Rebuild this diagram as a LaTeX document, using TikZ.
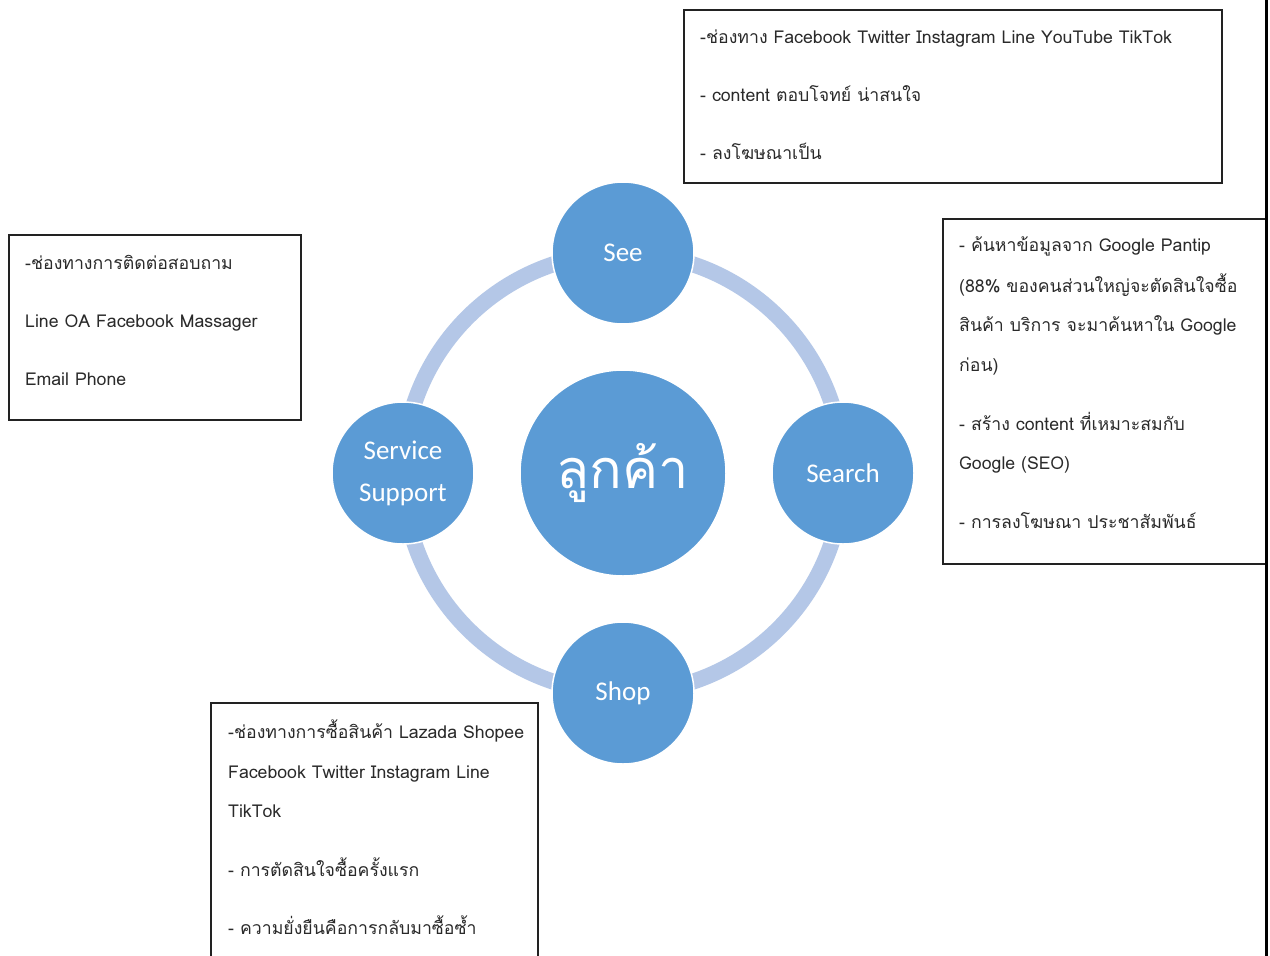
\documentclass[tikz,border=0pt]{standalone}
\usepackage{fontspec}
\setmainfont{Carlito}
\newfontfamily\thaifont[Script=Thai]{Loma}
\definecolor{circblue}{HTML}{5B9BD5}
\definecolor{ringblue}{HTML}{B4C7E7}
\definecolor{boxline}{HTML}{222222}
\definecolor{txtgray}{HTML}{2A2A2A}
\begin{document}
\begin{tikzpicture}[x=1pt,y=-1pt,
  sat/.style={circle,fill=circblue,draw=white,line width=1.5pt,minimum size=142pt,inner sep=0pt,
    text=white,font=\fontsize{27}{42}\selectfont,align=center},
  hub/.style={circle,fill=circblue,draw=white,line width=1.5pt,minimum size=206pt,inner sep=0pt,
    text=white,font=\thaifont\fontsize{54}{60}\selectfont},
  ring/.style={draw=ringblue,line width=16pt},
  infobox/.style={draw=boxline,line width=1.3pt},
  txt/.style={anchor=mid west,inner sep=0pt,text=txtgray,font=\thaifont\fontsize{17.7}{20}\selectfont}
]
\useasboundingbox (0,0) rectangle (1270,956);
\clip (0,0) rectangle (1270,956);
\fill[white] (0,0) rectangle (1270,956);

% hub and ring
\node[hub] (hub) at (623,473) {ลูกค้า};
\draw[ring] (hub.center) circle (220);

% satellites
\node[sat] (see) at (623,253) {See};
\node[sat] (search) at (843,473) {Search};
\node[sat] (shop) at (623,693) {Shop};
\node[sat] (service) at (403,473) {Service\\Support};

% top box (See)
\draw[infobox] (684,10) rectangle (1222,183);
\node[txt] (t1) at (700,41) {-ช่องทาง Facebook Twitter Instagram Line YouTube TikTok};
\node[txt] (t2) at (700,99) {- content ตอบโจทย์ น่าสนใจ};
\node[txt] (t3) at (700,157) {- ลงโฆษณาเป็น};

% right box (Search)
\draw[infobox] (943,219) rectangle (1266,564);
\node[txt] (r1) at (959,249) {- ค้นหาข้อมูลจาก Google Pantip};
\node[txt] (r2) at (959,290) {(88\% ของคนส่วนใหญ่จะตัดสินใจซื้อ};
\node[txt] (r3) at (959,329) {สินค้า บริการ จะมาค้นหาใน Google};
\node[txt] (r4) at (959,369) {ก่อน)};
\node[txt] (r5) at (959,428) {- สร้าง content ที่เหมาะสมกับ};
\node[txt] (r6) at (959,467) {Google (SEO)};
\node[txt] (r7) at (959,526) {- การลงโฆษณา ประชาสัมพันธ์};

% left box (Service Support)
\draw[infobox] (9,235) rectangle (301,420);
\node[txt] (l1) at (25,267) {-ช่องทางการติดต่อสอบถาม};
\node[txt] (l2) at (25,325) {Line OA Facebook Massager};
\node[txt] (l3) at (25,383) {Email Phone};

% bottom box (Shop)
\draw[infobox] (211,703) rectangle (538,970);
\node[txt] (b1) at (228,736) {-ช่องทางการซื้อสินค้า Lazada Shopee};
\node[txt] (b2) at (228,776) {Facebook Twitter Instagram Line};
\node[txt] (b3) at (228,815) {TikTok};
\node[txt] (b4) at (228,874) {- การตัดสินใจซื้อครั้งแรก};
\node[txt] (b5) at (228,932) {- ความยั่งยืนคือการกลับมาซื้อซ้ำ};

% page edge line
\draw[black,line width=2.2pt] (1266.5,0) -- (1266.5,956);
\end{tikzpicture}
\end{document}
